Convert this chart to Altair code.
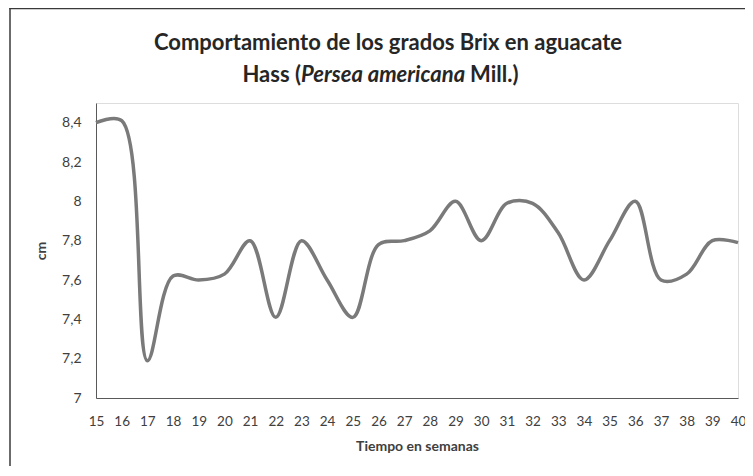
import altair as alt
import pandas as pd

semanas = list(range(15, 41))
brix = [8.40, 8.41, 7.19, 7.62, 7.60, 7.63, 7.80, 7.41, 7.80, 7.60,
        7.41, 7.78, 7.80, 7.85, 8.00, 7.80, 7.99, 7.99, 7.84, 7.60,
        7.80, 8.00, 7.60, 7.63, 7.80, 7.79]
y_ticks = [7, 7.2, 7.4, 7.6, 7.8, 8, 8.2, 8.4]
x_ticks = list(range(15, 41))

title_line1 = "Comportamiento de los grados Brix en aguacate"
title_a = "Hass ("
title_b = "Persea americana"
title_c = "Mill.)"

df = pd.DataFrame({"semana": semanas, "brix": brix})
one = pd.DataFrame({"k": [0]})

FONT = "Lato"
TXT = "#404040"

W, H = 642, 295
PL = 88

line = alt.Chart(df).mark_line(
    interpolate="catmull-rom", color="#7a7a7a", strokeWidth=3.5
).encode(
    x=alt.X("semana:Q", scale=alt.Scale(domain=[15, 40], nice=False, zero=False),
            axis=alt.Axis(values=x_ticks, ticks=False, grid=False, domainColor="#595959",
                          labelPadding=16, labelFontSize=13.5, labelColor=TXT, labelFont=FONT,
                          labelOverlap=False, labelFlush=False,
                          title="Tiempo en semanas", titleFontSize=14, titleFont=FONT,
                          titleColor=TXT, titleFontWeight="bold", titlePadding=12)),
    y=alt.Y("brix:Q", scale=alt.Scale(domain=[7, 8.5], nice=False, zero=False),
            axis=alt.Axis(values=y_ticks, ticks=False, grid=False, domainColor="#595959",
                          format=".1~f", labelExpr="replace(datum.label, '.', ',')",
                          labelPadding=15, labelFontSize=14, labelColor=TXT, labelFont=FONT,
                          labelOverlap=False, labelFlush=False,
                          title="cm", titleFontSize=14, titleFont=FONT, titleColor=TXT,
                          titleFontWeight="bold", titlePadding=13)),
)

frame_left = alt.Chart(one).mark_rule(stroke="#3a3a3a", strokeWidth=1.5).encode(
    x=alt.value(-(PL - 2)), y=alt.value(-95), y2=alt.value(600)
)
frame_top = alt.Chart(one).mark_rule(stroke="#3a3a3a", strokeWidth=1.5).encode(
    x=alt.value(-(PL - 1.25)), x2=alt.value(900), y=alt.value(-94.5)
)

def txt(text, x, y, align, italic=False):
    return alt.Chart(one).mark_text(
        text=text, font=FONT, fontSize=22, fontWeight="bold",
        fontStyle="italic" if italic else "normal", color="#262626",
        align=align, baseline="alphabetic"
    ).encode(x=alt.value(x), y=alt.value(y))

t1 = txt(title_line1, 292, -53, "center")
t2a = txt(title_a, 205, -21, "right")
t2b = txt(title_b, 205, -21, "left", italic=True)
t2c = txt(title_c, 374, -21, "left")

chart = alt.layer(frame_left, frame_top, line, t1, t2a, t2b, t2c).properties(
    width=W, height=H,
    autosize=alt.AutoSizeParams(type="none"),
    padding={"left": PL, "top": 95, "right": 737 - PL - W, "bottom": 68},
).configure_view(stroke=None).configure(background="white")

chart.save("out.html", embed_options={"renderer": "svg", "actions": False})
